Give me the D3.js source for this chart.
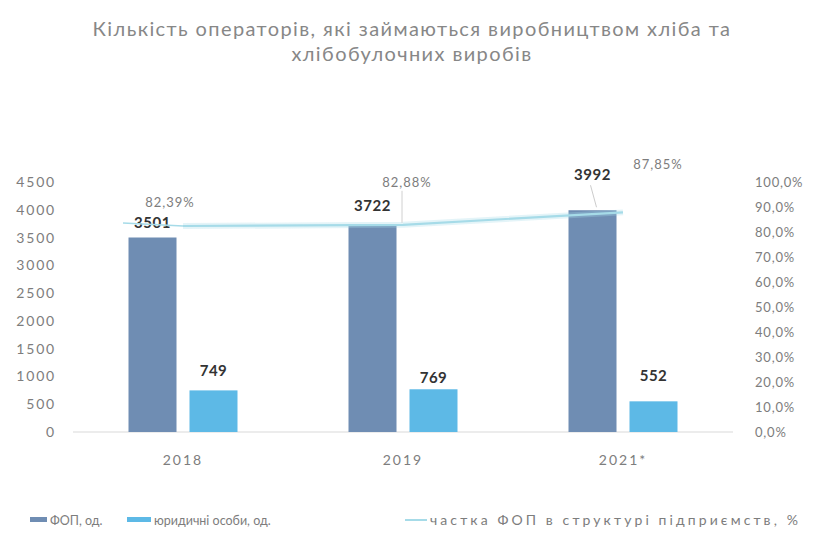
<!DOCTYPE html>
<html>
<head>
<meta charset="utf-8">
<script src="https://cdn.jsdelivr.net/npm/d3@7"></script>
<style>
  html, body { margin: 0; padding: 0; background: #ffffff; }
  svg { display: block; }
  text { font-family: "Lato", "Noto Sans", sans-serif; }
</style>
</head>
<body>
<svg id="chart" width="815" height="536"></svg>
<script>
// Chart data
const categories = ["2018", "2019", "2021*"];
const fopValues = [3501, 3722, 3992];        // ФОП, од.
const legalValues = [749, 769, 552];         // юридичні особи, од.
const fopShare = [0.8239, 0.8288, 0.8785];   // частка ФОП в структурі підприємств
const leftTicks = [0, 500, 1000, 1500, 2000, 2500, 3000, 3500, 4000, 4500];
const rightTicks = [0, 0.1, 0.2, 0.3, 0.4, 0.5, 0.6, 0.7, 0.8, 0.9, 1.0];
const titleLines = ["Кількість операторів, які займаються виробництвом хліба та", "хлібобулочних виробів"];
const legendLabels = ["ФОП, од.", "юридичні особи, од.", "частка ФОП в структурі підприємств, %"];

const colors = { fop: "#6f8db3", legal: "#5db9e6", share: "#a6dbe8", text: "#7d7d7d", label: "#333333" };

const svg = d3.select("#chart");
const plot = { left: 73, right: 733, top: 182, bottom: 432 };

const x = d3.scaleBand().domain(categories).range([plot.left, plot.right]);
const xSub = d3.scaleBand().domain(["fop", "legal"]).range([0, x.bandwidth()])
  .paddingInner(0.213).paddingOuter(0.91);
const y = d3.scaleLinear().domain([0, 4500]).range([plot.bottom, plot.top]);
const y2 = d3.scaleLinear().domain([0, 1]).range([plot.bottom, plot.top]);

const pctFmt = v => d3.format(".2f")(v * 100).replace(".", ",") + "%";
const axisPct = v => d3.format(".1f")(v * 100).replace(".", ",") + "%";

// Title
svg.append("g").selectAll("text").data(titleLines).join("text")
  .attr("x", 412).attr("y", (d, i) => 36 + i * 25)
  .attr("text-anchor", "middle")
  .attr("font-size", 20).attr("letter-spacing", 1.4).attr("fill", "#878787")
  .text(d => d);

// Left axis
const gl = svg.append("g").attr("transform", `translate(${plot.left - 17},0)`)
  .call(d3.axisLeft(y).tickValues(leftTicks).tickSize(0).tickPadding(0).tickFormat(d3.format("d")));
gl.select(".domain").remove();
gl.selectAll("text").attr("font-size", 14).attr("letter-spacing", 1.8)
  .attr("fill", colors.text).attr("font-family", "Lato, sans-serif");

// Right axis
const gr = svg.append("g").attr("transform", `translate(${plot.right + 22},0)`)
  .call(d3.axisRight(y2).tickValues(rightTicks).tickSize(0).tickPadding(0).tickFormat(axisPct));
gr.select(".domain").remove();
gr.selectAll("text").attr("font-size", 13).attr("letter-spacing", 0.8)
  .attr("fill", colors.text).attr("font-family", "Lato, sans-serif");

// Baseline
svg.append("line")
  .attr("x1", plot.left).attr("x2", plot.right)
  .attr("y1", y(0)).attr("y2", y(0))
  .attr("stroke", "#d9d9d9").attr("stroke-width", 1);

// Bars
const groups = svg.append("g").selectAll("g").data(categories).join("g")
  .attr("transform", d => `translate(${x(d)},0)`);

groups.append("rect")
  .attr("x", xSub("fop")).attr("width", xSub.bandwidth())
  .attr("y", (d, i) => y(fopValues[i]))
  .attr("height", (d, i) => y(0) - y(fopValues[i]))
  .attr("fill", colors.fop);

groups.append("rect")
  .attr("x", xSub("legal")).attr("width", xSub.bandwidth())
  .attr("y", (d, i) => y(legalValues[i]))
  .attr("height", (d, i) => y(0) - y(legalValues[i]))
  .attr("fill", colors.legal);

// Share line
const cx = d => x(d) + x.bandwidth() / 2;
const lineGen = d3.line().x((d, i) => cx(categories[i])).y(d => y2(d));
svg.append("path").datum(fopShare)
  .attr("d", lineGen).attr("fill", "none")
  .attr("stroke", colors.share).attr("stroke-width", 6).attr("stroke-opacity", 0.3);
svg.append("path").datum(fopShare)
  .attr("d", lineGen).attr("fill", "none")
  .attr("stroke", colors.share).attr("stroke-width", 2.2);
// Leader from the 2018 share label back to the line start
svg.append("line")
  .attr("x1", cx(categories[0]) - 60).attr("x2", cx(categories[0]))
  .attr("y1", y2(fopShare[0]) - 3).attr("y2", y2(fopShare[0]))
  .attr("stroke", colors.share).attr("stroke-width", 1.5);

// Value labels for bars (label offsets above bar tops)
const fopLabelGap = [10, 14, 30];
const legalLabelGap = [14, 6, 20];
groups.append("text")
  .attr("x", xSub("fop") + xSub.bandwidth() / 2)
  .attr("y", (d, i) => y(fopValues[i]) - fopLabelGap[i])
  .attr("text-anchor", "middle").attr("font-size", 15).attr("font-weight", "bold")
  .attr("letter-spacing", 0.5).attr("fill", colors.label)
  .text((d, i) => fopValues[i]);
groups.append("text")
  .attr("x", xSub("legal") + xSub.bandwidth() / 2)
  .attr("y", (d, i) => y(legalValues[i]) - legalLabelGap[i])
  .attr("text-anchor", "middle").attr("font-size", 15).attr("font-weight", "bold")
  .attr("letter-spacing", 0.5).attr("fill", colors.label)
  .text((d, i) => legalValues[i]);

// Leader from the 2021* ФОП label to its bar
{
  const bx = x(categories[2]) + xSub("fop") + xSub.bandwidth() / 2;
  svg.append("line")
    .attr("x1", bx - 2).attr("y1", y(fopValues[2]) - 25)
    .attr("x2", bx + 4).attr("y2", y(fopValues[2]) - 3)
    .attr("stroke", "#cccccc").attr("stroke-width", 1);
}

// Share labels
const shareLabelDx = [-13, 4, 35];
const shareLabelDy = [-19, -38, -43];
svg.append("g").selectAll("text").data(fopShare).join("text")
  .attr("x", (d, i) => cx(categories[i]) + shareLabelDx[i])
  .attr("y", (d, i) => y2(d) + shareLabelDy[i])
  .attr("text-anchor", "middle").attr("font-size", 13).attr("letter-spacing", 1)
  .attr("fill", colors.text)
  .text(d => pctFmt(d));
// Leader for the 2019 share label
svg.append("line")
  .attr("x1", cx(categories[1]) - 1).attr("x2", cx(categories[1]) - 1)
  .attr("y1", y2(fopShare[1]) - 34).attr("y2", y2(fopShare[1]) - 2)
  .attr("stroke", "#d0d0d0").attr("stroke-width", 1);

// Category labels
svg.append("g").selectAll("text").data(categories).join("text")
  .attr("x", d => cx(d)).attr("y", 465)
  .attr("text-anchor", "middle").attr("font-size", 14).attr("letter-spacing", 2)
  .attr("fill", colors.text)
  .text(d => d);

// Legend
const legend = svg.append("g").attr("transform", "translate(0,520)");
const legendX = [30, 127, 405];
const swatchW = [17, 24, 22];
legendLabels.forEach((lbl, i) => {
  const g = legend.append("g").attr("transform", `translate(${legendX[i]},0)`);
  if (i < 2) {
    g.append("rect").attr("x", 0).attr("y", -3).attr("width", swatchW[i]).attr("height", 5)
      .attr("fill", i === 0 ? colors.fop : colors.legal);
  } else {
    g.append("line").attr("x1", 0).attr("x2", swatchW[i]).attr("y1", 0).attr("y2", 0)
      .attr("stroke", colors.share).attr("stroke-width", 2);
  }
  const t = g.append("text").attr("x", swatchW[i] + 3).attr("y", 4.5)
    .attr("font-size", 12.5).attr("fill", colors.text).text(lbl);
  if (i === 2) t.attr("font-size", 14).attr("letter-spacing", 3.1);
});
</script>
</body>
</html>
